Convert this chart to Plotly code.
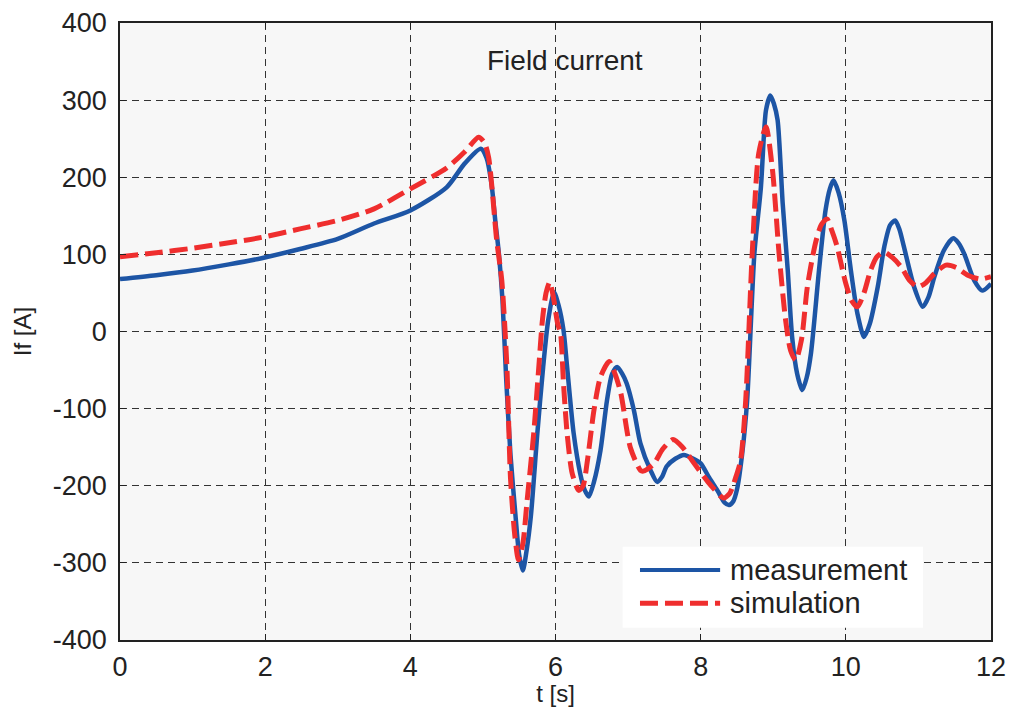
import plotly.graph_objects as go

# ---- data ----
t_meas = [0, 0.5, 1, 1.5, 1.95, 2.48, 3, 3.5, 4, 4.5, 4.75, 4.97, 5.05, 5.12, 5.17, 5.22, 5.27,
          5.32, 5.38, 5.45, 5.50, 5.55, 5.60, 5.66, 5.75, 5.83, 5.90, 5.98, 6.04, 6.11, 6.16,
          6.25, 6.34, 6.40, 6.46, 6.53, 6.62, 6.71, 6.78, 6.85, 6.92, 6.98, 7.08, 7.17, 7.31,
          7.40, 7.47, 7.53, 7.65, 7.77, 7.90, 8.0, 8.12, 8.23, 8.33, 8.39, 8.45, 8.50, 8.57,
          8.64, 8.74, 8.83, 8.90, 8.96, 9.01, 9.06, 9.13, 9.20, 9.26, 9.33, 9.40, 9.46, 9.52,
          9.63, 9.72, 9.78, 9.83, 9.90, 9.98, 10.07, 10.16, 10.25, 10.33, 10.44, 10.53, 10.61,
          10.68, 10.74, 10.80, 10.94, 11.06, 11.14, 11.22, 11.35, 11.48, 11.55, 11.63, 11.77,
          11.88, 12.0]
i_meas = [68, 73, 79, 87, 95, 107, 120, 140, 157, 187, 218, 237, 225, 190, 144, 101, 40,
          -60, -160, -240, -290, -310, -285, -240, -132, -46, 15, 51, 35, 2, -46,
          -132, -184, -205, -214, -195, -154, -89, -55, -46, -55, -67, -102, -145, -180,
          -195, -188, -175, -165, -160, -165, -171, -190, -206, -222, -225, -220, -205, -160,
          -90, 101, 187, 287, 306, 295, 274, 166, 79, -7, -55, -76, -60, -28,
          79, 157, 185, 196, 180, 144, 79, 23, -7, 10, 58, 110, 138,
          144, 132, 110, 58, 32, 45, 71, 105, 121, 115, 101, 66,
          53, 62]

t_sim = [0, 0.5, 1, 1.5, 1.95, 2.48, 3, 3.5, 4, 4.5, 4.75, 4.94, 5.02, 5.08, 5.19, 5.26,
         5.33, 5.38, 5.44, 5.49, 5.55, 5.61, 5.70, 5.77, 5.82, 5.87, 5.92, 5.97, 6.03, 6.07,
         6.11, 6.16, 6.23, 6.32, 6.38, 6.44, 6.53, 6.62, 6.74, 6.82, 6.90, 7.03, 7.17, 7.21,
         7.35, 7.48, 7.62, 7.75, 7.91, 8.1, 8.28, 8.32, 8.40, 8.48, 8.55, 8.62, 8.71, 8.80,
         8.90, 8.99, 9.08, 9.17, 9.24, 9.31, 9.39, 9.47, 9.58, 9.66, 9.74, 9.81, 9.88, 10.0,
         10.08, 10.16, 10.25, 10.34, 10.43, 10.53, 10.64, 10.76, 10.88, 10.99, 11.10, 11.22,
         11.38, 11.52, 11.68, 11.85, 12.0]
i_sim = [97, 102, 108, 115, 122, 133, 144, 159, 185, 212, 233, 252, 245, 225, 118, 66,
         -45, -190, -265, -296, -275, -218, -132, -46, 15, 50, 64, 45, 10, -3,
         -67, -132, -184, -206, -200, -167, -102, -59, -39, -55, -80, -150, -180, -181,
         -172, -152, -140, -150, -171, -195, -214, -216, -210, -190, -167, -90, 101, 231,
         265, 209, 101, 15, -25, -37, -10, 58, 114, 138, 146, 130, 110, 62,
         40, 32, 50, 79, 97, 103, 96, 84, 66, 58, 63, 75,
         86, 83, 73, 68, 71]

series_names = ["measurement", "simulation"]
x_ticks = [0, 2, 4, 6, 8, 10, 12]
y_ticks = [-400, -300, -200, -100, 0, 100, 200, 300, 400]

BLUE = "#1d55a5"
RED = "#ef2e2e"
FONT = "Liberation Sans, Arial, sans-serif"
TXT = "#222222"

fig = go.Figure()
fig.add_trace(go.Scatter(x=t_meas, y=i_meas, mode="lines", name=series_names[0],
                         line=dict(color=BLUE, width=4.5, shape="spline", smoothing=0.7),
                         showlegend=False))
fig.add_trace(go.Scatter(x=t_sim, y=i_sim, mode="lines", name=series_names[1],
                         line=dict(color=RED, width=5, dash="18px,7px", shape="spline", smoothing=0.7),
                         showlegend=False))

axis_common = dict(showline=True, linecolor="#222222", linewidth=1.5, mirror="ticks",
                   ticks="inside", ticklen=6, tickcolor="#222222", tickwidth=1,
                   showgrid=True, gridcolor="#333333", gridwidth=1, griddash="7px,5px",
                   zeroline=False, automargin=False,
                   tickfont=dict(family=FONT, size=27, color=TXT))

fig.update_xaxes(range=[0, 12], tickvals=x_ticks, ticktext=[str(v) for v in x_ticks],
                 ticklabelstandoff=2,
                 title=dict(text="t [s]", font=dict(family=FONT, size=24, color=TXT), standoff=4),
                 **axis_common)
fig.update_yaxes(range=[-400, 400], tickvals=y_ticks, ticktext=[str(v) for v in y_ticks],
                 ticklabelstandoff=6,
                 title=dict(text="If [A]", font=dict(family=FONT, size=24, color=TXT), standoff=14),
                 **axis_common)

# legend drawn as decoration in paper coordinates
shapes = [
    dict(type="rect", xref="paper", yref="paper", x0=0.577, x1=0.922, y0=0.020, y1=0.151,
         fillcolor="white", line=dict(width=0), layer="above"),
    dict(type="line", xref="paper", yref="paper", x0=0.597, x1=0.689, y0=0.1134, y1=0.1134,
         line=dict(color=BLUE, width=4), layer="above"),
    dict(type="line", xref="paper", yref="paper", x0=0.597, x1=0.689, y0=0.0594, y1=0.0594,
         line=dict(color=RED, width=5, dash="18px,7px"), layer="above"),
]
annotations = [
    dict(text=series_names[0], xref="paper", yref="paper", x=0.698, y=0.1134, xanchor="left",
         yanchor="middle", showarrow=False, font=dict(family=FONT, size=29, color=TXT)),
    dict(text=series_names[1], xref="paper", yref="paper", x=0.698, y=0.0594, xanchor="left",
         yanchor="middle", showarrow=False, font=dict(family=FONT, size=29, color=TXT)),
    dict(text="Field current", xref="paper", yref="paper", x=0.5106, y=0.9396, xanchor="center",
         yanchor="middle", showarrow=False, font=dict(family=FONT, size=28, color=TXT)),
]

fig.update_layout(width=1011, height=707, margin=dict(l=120, r=20, t=23, b=67),
                  plot_bgcolor="#f7f7f7", paper_bgcolor="white",
                  shapes=shapes, annotations=annotations, showlegend=False,
                  font=dict(family=FONT, color=TXT))

fig.write_html("out.html", config={"displayModeBar": False},
               post_script="document.body.style.margin='0';document.body.style.overflow='hidden';")
